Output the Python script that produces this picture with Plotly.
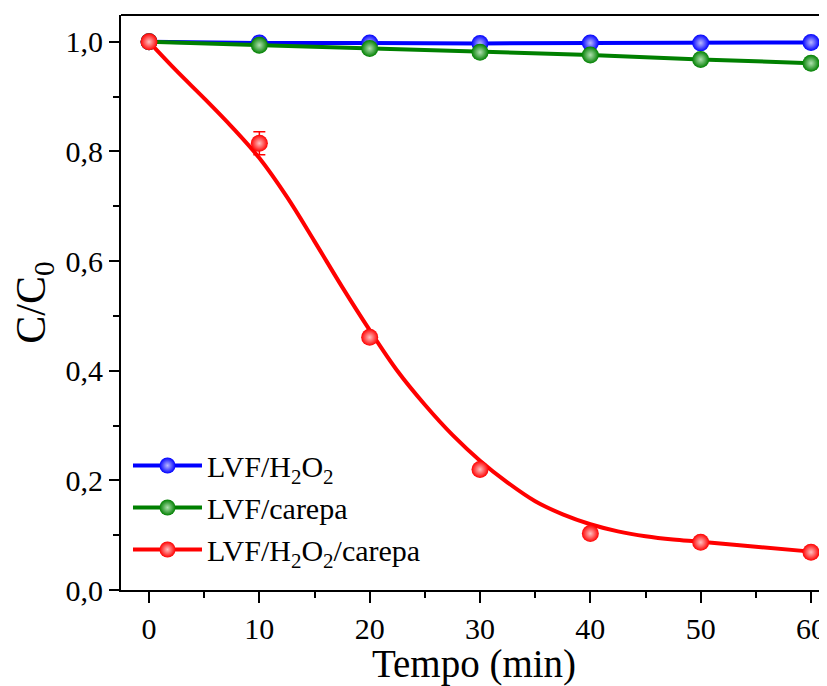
import plotly.graph_objects as go

tempo = [0, 10, 20, 30, 40, 50, 60]
lvf_h2o2 = [1.0, 0.998, 0.998, 0.997, 0.998, 0.998, 0.999]
lvf_h2o2_err = [0.002, 0.003, 0.003, 0.003, 0.003, 0.003, 0.002]
lvf_carepa = [1.0, 0.994, 0.988, 0.981, 0.976, 0.968, 0.961]
lvf_carepa_err = [0.002, 0.003, 0.003, 0.003, 0.003, 0.003, 0.003]
lvf_h2o2_carepa = [1.0, 0.815, 0.461, 0.220, 0.103, 0.087, 0.069]
lvf_h2o2_carepa_err = [0.003, 0.021, 0.004, 0.006, 0.004, 0.004, 0.004]

# fitted (sigmoidal) curve for LVF/H2O2/carepa
fit_t = [0, 2.5, 5, 7.5, 10, 12.5, 15, 17.5, 20, 22.5, 25, 27.5, 30,
         32.5, 35, 37.5, 40, 42.5, 45, 47.5, 50, 55, 60]
fit_c = [1.0, 0.947, 0.897, 0.845, 0.788, 0.717, 0.636, 0.553, 0.474,
         0.400, 0.338, 0.283, 0.236, 0.196, 0.162, 0.138, 0.120, 0.107,
         0.098, 0.092, 0.088, 0.079, 0.070]

y_ticks = [0.0, 0.2, 0.4, 0.6, 0.8, 1.0]
y_ticklabels = ["0,0", "0,2", "0,4", "0,6", "0,8", "1,0"]
x_ticks = [0, 10, 20, 30, 40, 50, 60]

FONT = "Liberation Serif, Times New Roman, serif"

fig = go.Figure()

def marker(col, center):
    return dict(symbol="circle", size=17, color=col,
                gradient=dict(type="radial", color=center),
                line=dict(width=0))

series = [
    ("LVF/H<sub>2</sub>O<sub>2</sub>", lvf_h2o2, lvf_h2o2_err, "#0000ff", "#b8b8ff"),
    ("LVF/carepa", lvf_carepa, lvf_carepa_err, "#008000", "#b0e0b0"),
]
for name, ys, err, col, cen in series:
    fig.add_trace(go.Scatter(
        x=tempo, y=ys, mode="lines+markers", name=name,
        line=dict(color=col, width=4),
        marker=marker(col, cen),
        error_y=dict(type="data", array=err, color=col, thickness=1.5, width=6),
        cliponaxis=False,
    ))

# red fit curve (not in legend)
fig.add_trace(go.Scatter(
    x=fit_t, y=fit_c, mode="lines", line=dict(color="#ff0000", width=4, shape="spline"),
    showlegend=False, hoverinfo="skip",
))
fig.add_trace(go.Scatter(
    x=tempo, y=lvf_h2o2_carepa, mode="markers", name="LVF/H<sub>2</sub>O<sub>2</sub>/carepa",
    marker=marker("#ff0000", "#ffc0c0"),
    error_y=dict(type="data", array=lvf_h2o2_carepa_err, color="#ff0000", thickness=1.5, width=6),
    showlegend=False, cliponaxis=False,
))
# legend entry for red series (line + marker)
fig.add_trace(go.Scatter(
    x=[None], y=[None], mode="lines+markers", name="LVF/H<sub>2</sub>O<sub>2</sub>/carepa",
    line=dict(color="#ff0000", width=4), marker=marker("#ff0000", "#ffc0c0"),
))

# page body has an 8px default margin: figure is shrunk/offset to compensate
fig.update_layout(
    width=819, height=678,
    margin=dict(l=113, r=0, t=7, b=96),
    paper_bgcolor="white", plot_bgcolor="white",
    font=dict(family=FONT, color="black"),
    showlegend=True,
    legend=dict(x=0.0099, y=0.2617, xanchor="left", yanchor="top",
                bgcolor="rgba(0,0,0,0)", font=dict(family=FONT, size=30),
                itemwidth=69, tracegroupgap=0),
    shapes=[dict(type="line", xref="paper", yref="paper", x0=0, x1=1, y0=1, y1=1,
                 line=dict(color="black", width=2))],
)

fig.update_xaxes(
    range=[-2.54, 61.45], tickvals=x_ticks, ticks="outside", ticklen=11, tickwidth=2,
    tickcolor="black", showline=True, linecolor="black", linewidth=2,
    showgrid=False, zeroline=False, tickfont=dict(family=FONT, size=30),
    minor=dict(dtick=5, tick0=0, ticks="outside", ticklen=6, tickwidth=2, tickcolor="black"),
    title=dict(text="Tempo (min)", font=dict(family=FONT, size=39), standoff=4),
)
fig.update_yaxes(
    range=[0, 1.049], tickvals=y_ticks, ticktext=y_ticklabels, ticks="outside", ticklen=10,
    tickwidth=2, tickcolor="black", showline=True, linecolor="black", linewidth=2,
    showgrid=False, zeroline=False, tickfont=dict(family=FONT, size=30),
    minor=dict(dtick=0.1, tick0=0, ticks="outside", ticklen=6, tickwidth=2, tickcolor="black"),
    title=dict(text="C/C<sub>0</sub>", font=dict(family=FONT, size=42), standoff=10),
)

fig.write_html("out.html")
